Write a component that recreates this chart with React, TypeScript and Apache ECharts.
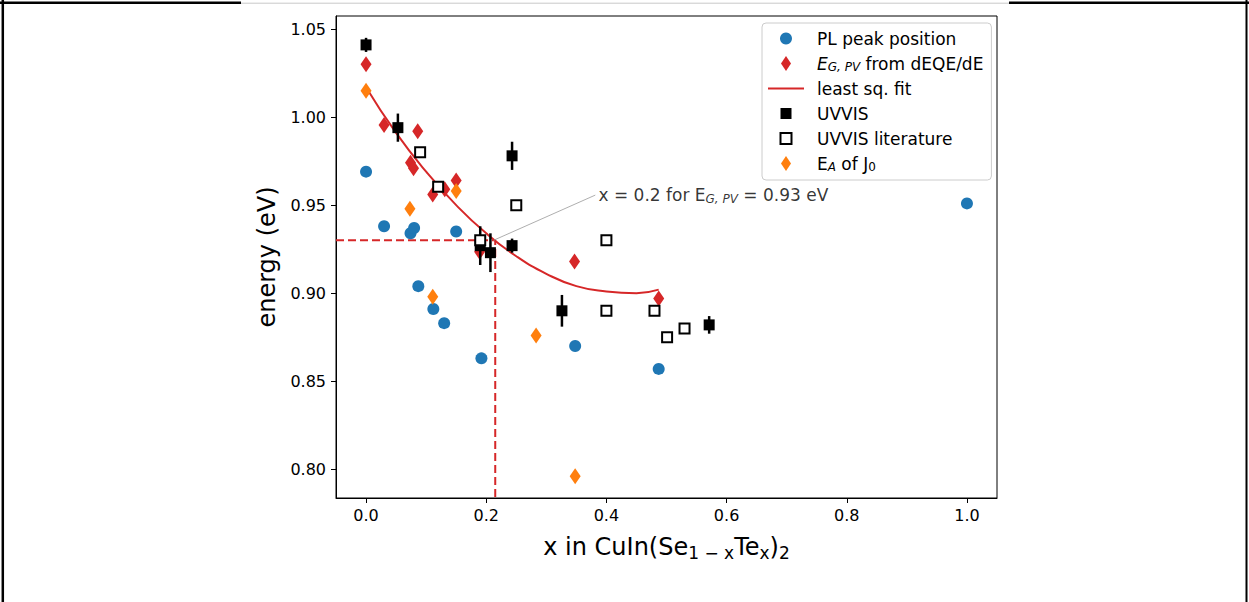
import React, { useEffect, useRef } from "react";
import * as echarts from "echarts";

// ---- data ----
const plX = [0, 0.03, 0.074, 0.08, 0.15, 0.087, 0.112, 0.13, 0.192, 0.348, 0.487, 1.0];
const plY = [0.969, 0.938, 0.934, 0.937, 0.935, 0.904, 0.891, 0.883, 0.863, 0.87, 0.857, 0.951];

const egX = [0, 0.03, 0.086, 0.074, 0.079, 0.15, 0.111, 0.131, 0.189, 0.347, 0.487];
const egY = [1.03, 0.9955, 0.992, 0.974, 0.971, 0.964, 0.956, 0.959, 0.9235, 0.918, 0.897];

const fitX = [0, 0.05, 0.1, 0.15, 0.2, 0.25, 0.3, 0.35, 0.4, 0.45, 0.487];
const fitY = [1.017, 0.991, 0.969, 0.95, 0.934, 0.921, 0.911, 0.904, 0.901, 0.9, 0.902];

const uvX = [0, 0.053, 0.243, 0.19, 0.207, 0.243, 0.326, 0.571];
const uvY = [1.041, 0.994, 0.978, 0.927, 0.923, 0.927, 0.89, 0.882];
const uvErr = [0.004, 0.008, 0.008, 0.011, 0.011, 0.004, 0.009, 0.005];

const litX = [0.09, 0.12, 0.25, 0.19, 0.4, 0.4, 0.48, 0.501, 0.53];
const litY = [0.98, 0.9605, 0.95, 0.93, 0.93, 0.89, 0.89, 0.875, 0.88];

const eaX = [0, 0.15, 0.073, 0.111, 0.283, 0.348];
const eaY = [1.015, 0.958, 0.948, 0.898, 0.876, 0.796];

const xTicks = [0, 0.2, 0.4, 0.6, 0.8, 1.0];
const yTicks = [0.8, 0.85, 0.9, 0.95, 1.0, 1.05];

const xMin = -0.05;
const xMax = 1.05;
const yMin = 0.7837;
const yMax = 1.0574;

const guideX = 0.215;
const guideY = 0.93;
const annFrom = [0.212, 0.93];
const annTo = [0.3815, 0.9557];
const annText = [0.386, 0.9557];

const NAMES = {
  pl: "PL peak position",
  eg: "E_G,PV from dEQE/dE",
  fit: "least sq. fit",
  uv: "UVVIS",
  lit: "UVVIS literature",
  ea: "E_A of J_0",
};

const FONT = "DejaVu Sans";
const BLUE = "#1f77b4";
const RED = "#d62728";
const ORANGE = "#ff7f0e";

const zip = (a: number[], b: number[]) => a.map((v, i) => [v, b[i]]);

const richSmall = {
  sub: { fontSize: 12, lineHeight: 11, verticalAlign: "bottom", fontFamily: FONT, color: "#000" },
  itsub: { fontSize: 12, lineHeight: 11, verticalAlign: "bottom", fontStyle: "italic", fontFamily: FONT, color: "#000" },
  it: { fontStyle: "italic", fontSize: 17, lineHeight: 19, fontFamily: FONT, color: "#000" },
};

const legendLabels: Record<string, string> = {
  [NAMES.eg]: "{it|E}{itsub|G, PV} from dEQE/dE",
  [NAMES.ea]: "E{itsub|A} of J{sub|0}",
};

const ICON_CIRCLE = "path://M0,0 M16,16 M8,2 A6,6,0,1,1,7.99,2 Z";
const ICON_SQUARE = "path://M0,0 M16,16 M2.5,2.5 L13.5,2.5 L13.5,13.5 L2.5,13.5 Z";
const ICON_DIAMOND = "path://M0,0 M16,16 M8,0.5 L13,8 L8,15.5 L3,8 Z";
const ICON_LINE = "path://M0,0 L36,0 L36,2 L0,2 Z";

export default function App() {
  const ref = useRef<HTMLDivElement>(null);
  useEffect(() => {
    const chart = echarts.init(ref.current!, null, { renderer: "svg" });
    const option: any = {
      animation: false,
      backgroundColor: "#fff",
      textStyle: { fontFamily: FONT },
      grid: {
        left: 336,
        top: 16,
        width: 661,
        height: 482,
        show: true,
        borderColor: "#000",
        borderWidth: 1,
        backgroundColor: "transparent",
      },
      xAxis: {
        type: "value",
        min: xMin,
        max: xMax,
        splitLine: { show: false },
        axisLine: { show: true, onZero: false, lineStyle: { color: "#000", width: 1 } },
        axisTick: { show: true, inside: false, length: 5, customValues: xTicks, lineStyle: { color: "#000" } },
        axisLabel: {
          customValues: xTicks,
          margin: 9,
          fontSize: 16,
          fontFamily: FONT,
          color: "#000",
          formatter: (v: number) => v.toFixed(1),
        },
        name: "x in CuIn(Se{s|1 − x}Te{s|x}){s|2}",
        nameLocation: "middle",
        nameGap: 34,
        nameTextStyle: {
          fontSize: 24,
          fontFamily: FONT,
          color: "#000",
          lineHeight: 29,
          rich: {
            s: { fontSize: 17, lineHeight: 15, verticalAlign: "bottom", fontFamily: FONT, color: "#000" },
          },
        },
      },
      yAxis: {
        type: "value",
        min: yMin,
        max: yMax,
        splitLine: { show: false },
        axisLine: { show: true, onZero: false, lineStyle: { color: "#000", width: 1 } },
        axisTick: { show: true, inside: false, length: 5, customValues: yTicks, lineStyle: { color: "#000" } },
        axisLabel: {
          customValues: yTicks,
          margin: 10,
          fontSize: 16,
          fontFamily: FONT,
          color: "#000",
          formatter: (v: number) => v.toFixed(2),
        },
        name: "energy (eV)",
        nameLocation: "middle",
        nameGap: 57,
        nameTextStyle: { fontSize: 24, fontFamily: FONT, color: "#000" },
      },
      legend: {
        orient: "vertical",
        left: 762,
        top: 23,
        itemWidth: 36,
        itemHeight: 16,
        itemGap: 6,
        padding: [6, 8, 7, 6],
        backgroundColor: "rgba(255,255,255,0.8)",
        borderColor: "#cccccc",
        borderWidth: 1,
        borderRadius: 4,
        selectedMode: false,
        textStyle: {
          fontFamily: FONT,
          fontSize: 17,
          color: "#000",
          lineHeight: 19,
          padding: [0, 0, 0, 8],
          rich: richSmall,
        },
        formatter: (name: string) => legendLabels[name] ?? name,
        data: [
          { name: NAMES.pl, icon: ICON_CIRCLE },
          { name: NAMES.eg, icon: ICON_DIAMOND },
          { name: NAMES.fit, icon: ICON_LINE },
          { name: NAMES.uv, icon: ICON_SQUARE },
          { name: NAMES.lit, icon: ICON_SQUARE },
          { name: NAMES.ea, icon: ICON_DIAMOND },
        ],
      },
      graphic: [
        { type: "line", silent: true, shape: { x1: 2.8, y1: 0, x2: 2.8, y2: 602 }, style: { stroke: "#000", lineWidth: 2.5 } },
        { type: "line", silent: true, shape: { x1: 0, y1: 2.8, x2: 241, y2: 2.8 }, style: { stroke: "#000", lineWidth: 2.5 } },
        { type: "line", silent: true, shape: { x1: 241, y1: 3.2, x2: 1009, y2: 3.2 }, style: { stroke: "#c8c8c8", lineWidth: 1 } },
        { type: "line", silent: true, shape: { x1: 1009, y1: 2.8, x2: 1249, y2: 2.8 }, style: { stroke: "#000", lineWidth: 2.5 } },
        { type: "line", silent: true, shape: { x1: 1246.5, y1: 0, x2: 1246.5, y2: 602 }, style: { stroke: "#000", lineWidth: 2 } },
      ],
      series: [
        {
          name: "guide",
          type: "line",
          data: [
            [xMin, guideY],
            [guideX, guideY],
            [guideX, yMin],
          ],
          symbol: "none",
          lineStyle: { color: RED, width: 2, type: [8, 4] },
          z: 1,
          silent: true,
        },
        {
          name: NAMES.pl,
          type: "scatter",
          data: zip(plX, plY),
          symbol: "circle",
          symbolSize: 12,
          itemStyle: { color: BLUE, opacity: 1 },
          z: 2,
        },
        {
          name: NAMES.eg,
          type: "scatter",
          data: zip(egX, egY),
          symbol: "diamond",
          symbolSize: [11, 16],
          itemStyle: { color: RED, opacity: 1 },
          z: 2,
        },
        {
          name: NAMES.fit,
          type: "line",
          data: zip(fitX, fitY),
          smooth: true,
          symbol: "none",
          lineStyle: { color: RED, width: 2 },
          itemStyle: { color: RED },
          z: 3,
        },
        {
          name: "uv-err",
          type: "custom",
          data: uvX.map((x, i) => [x, uvY[i], uvErr[i]]),
          renderItem: (_p: any, api: any) => {
            const x = api.value(0);
            const y = api.value(1);
            const e = api.value(2);
            const a = api.coord([x, y + e]);
            const b = api.coord([x, y - e]);
            return {
              type: "line",
              shape: { x1: a[0], y1: a[1], x2: b[0], y2: b[1] },
              style: { stroke: "#000", lineWidth: 2.5 },
            };
          },
          z: 4,
          silent: true,
        },
        {
          name: NAMES.uv,
          type: "scatter",
          data: zip(uvX, uvY),
          symbol: "rect",
          symbolSize: 11,
          itemStyle: { color: "#000", opacity: 1 },
          z: 5,
        },
        {
          name: NAMES.lit,
          type: "scatter",
          data: zip(litX, litY),
          symbol: "rect",
          symbolSize: 10,
          itemStyle: { color: "#fff", borderColor: "#000", borderWidth: 2, opacity: 1 },
          z: 6,
        },
        {
          name: NAMES.ea,
          type: "scatter",
          data: zip(eaX, eaY),
          symbol: "diamond",
          symbolSize: [11, 16],
          itemStyle: { color: ORANGE, opacity: 1 },
          z: 7,
        },
        {
          name: "annotation-line",
          type: "line",
          data: [annFrom, annTo],
          symbol: "none",
          lineStyle: { color: "#999", width: 0.8 },
          z: 8,
          silent: true,
        },
        {
          name: "annotation",
          type: "scatter",
          data: [annText],
          symbolSize: 1,
          itemStyle: { color: "rgba(0,0,0,0)" },
          z: 9,
          silent: true,
          label: {
            show: true,
            position: "right",
            distance: 0,
            fontFamily: FONT,
            fontSize: 17,
            lineHeight: 19,
            color: "#000",
            formatter: "x = 0.2 for E{itsub|G, PV} = 0.93 eV",
            rich: richSmall,
          },
        },
      ],
    };
    chart.setOption(option);
    return () => chart.dispose();
  }, []);
  return (
    <div
      ref={ref}
      style={{ position: "fixed", left: 0, top: 0, width: 1249, height: 602, background: "#fff" }}
    />
  );
}
